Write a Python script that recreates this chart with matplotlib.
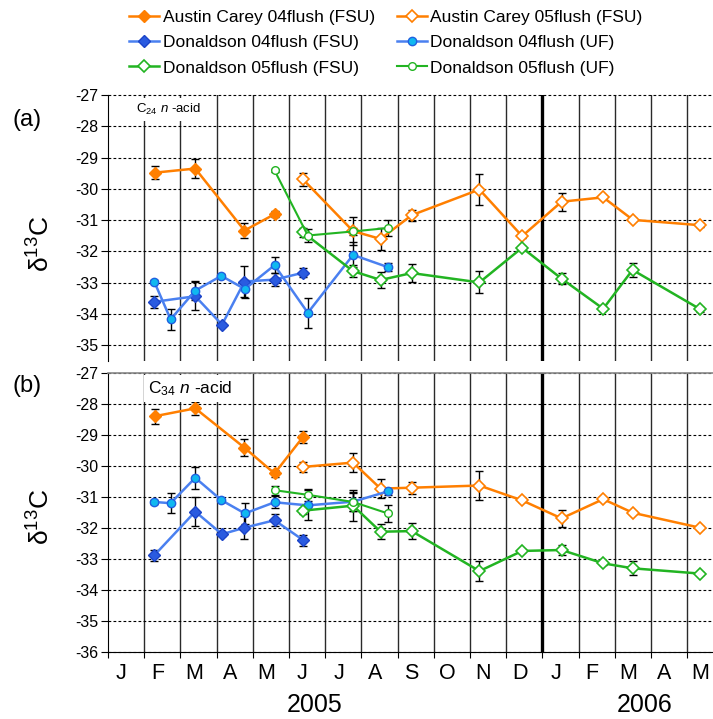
import numpy as np
import matplotlib
matplotlib.use("Agg")
import matplotlib.pyplot as plt

plt.rcParams['font.family'] = ['Liberation Sans', 'DejaVu Sans']
plt.rcParams['mathtext.fontset'] = 'custom'
plt.rcParams['mathtext.rm'] = 'Liberation Sans'
plt.rcParams['mathtext.it'] = 'Liberation Sans:italic'

nan = np.nan

# months since 1 Jan 2005
ac04_x = [1.31, 2.41, 3.77, 4.60, 5.39]
ac05_x = [5.39, 6.77, 7.53, 8.39, 10.26, 11.44, 12.53, 13.68, 14.50, 16.35]
df04_x = [1.28, 2.41, 3.15, 3.77, 4.60, 5.39]
du04_x = [1.28, 1.73, 2.41, 3.13, 3.78, 4.60, 5.52, 6.77, 7.73]
df05_x = [5.39, 6.77, 7.53, 8.39, 10.26, 11.44, 12.53, 13.68, 14.49, 16.35]
du05_x = [4.60, 5.52, 6.77, 7.73]

# panel (a) C24 n-acid
a_ac04_y = [-29.48, -29.35, -31.33, -30.81, nan]
a_ac04_e = [0.22, 0.30, 0.25, 0.10, 0]
a_ac05_y = [-29.70, -31.35, -31.60, -30.84, -30.02, -31.51, -30.41, -30.27, -30.99, -31.16]
a_ac05_e = [0.20, 0.45, 0.35, 0.18, 0.48, 0.06, 0.29, 0.05, 0.05, 0.07]
a_df04_y = [-33.61, -33.43, -34.34, -32.96, -32.90, -32.68]
a_df04_e = [0.20, 0.45, 0.05, 0.50, 0.20, 0.15]
a_du04_y = [-32.97, -34.17, -33.25, -32.78, -33.20, -32.44, -33.96, -32.11, -32.50]
a_du04_e = [0.05, 0.33, 0.30, 0.05, 0.30, 0.25, 0.47, 0.40, 0.12]
a_df05_y = [-31.39, -32.63, -32.91, -32.69, -32.99, -31.88, -32.87, -33.83, -32.59, -33.84]
a_df05_e = [0.15, 0.20, 0.25, 0.28, 0.35, 0.05, 0.17, 0.05, 0.22, 0.08]
a_du05_y = [-29.41, -31.49, -31.36, -31.25]
a_du05_e = [0.05, 0.20, 0.10, 0.25]

# panel (b) C34 n-acid
b_ac04_y = [-28.39, -28.14, -29.41, -30.24, -29.06]
b_ac04_e = [0.24, 0.20, 0.27, 0.10, 0.19]
b_ac05_y = [-30.03, -29.89, -30.73, -30.70, -30.63, -31.11, -31.69, -31.07, -31.51, -31.99]
b_ac05_e = [0.16, 0.30, 0.30, 0.19, 0.48, 0.05, 0.28, 0.05, 0.05, 0.05]
b_df04_y = [-32.88, -31.47, -32.20, -31.99, -31.75, -32.39]
b_df04_e = [0.18, 0.46, 0.05, 0.38, 0.19, 0.18]
b_du04_y = [-31.16, -31.20, -30.38, -31.10, -31.53, -31.17, -31.27, -31.15, -30.82]
b_du04_e = [0.05, 0.33, 0.35, 0.05, 0.35, 0.19, 0.48, 0.30, 0.10]
b_df05_y = [-31.44, -31.28, -32.12, -32.10, -33.39, -32.74, -32.71, -33.14, -33.30, -33.47]
b_df05_e = [0.10, 0.50, 0.25, 0.25, 0.33, 0.05, 0.16, 0.05, 0.22, 0.05]
b_du05_y = [-30.78, -30.93, -31.16, -31.53]
b_du05_e = [0.15, 0.19, 0.30, 0.27]

labels = ['Austin Carey 04flush (FSU)', 'Austin Carey 05flush (FSU)',
          'Donaldson 04flush (FSU)', 'Donaldson 04flush (UF)',
          'Donaldson 05flush (FSU)', 'Donaldson 05flush (UF)']
month_letters = ['J', 'F', 'M', 'A', 'M', 'J', 'J', 'A', 'S', 'O', 'N', 'D',
                 'J', 'F', 'M', 'A', 'M']

orange = '#ff7f00'
blue = '#4a80f0'
green = '#22b422'

styles = [
    dict(color=orange, marker='D', ms=6.5, mfc=orange, mec=orange, lw=1.8),
    dict(color=orange, marker='D', ms=6.5, mfc='white', mec=orange, lw=1.8, mew=1.2),
    dict(color=blue, marker='D', ms=6.5, mfc='#2a5be0', mec='#1c44c8', lw=1.8),
    dict(color=blue, marker='o', ms=6, mfc='#10b8f0', mec='#2060e0', lw=1.8),
    dict(color=green, marker='D', ms=6.5, mfc='white', mec=green, lw=1.8, mew=1.2),
    dict(color=green, marker='o', ms=5.5, mfc='white', mec=green, lw=1.5, mew=1.0),
]

xs = [ac04_x, ac05_x, df04_x, du04_x, df05_x, du05_x]
panel_a = [(a_ac04_y, a_ac04_e), (a_ac05_y, a_ac05_e), (a_df04_y, a_df04_e),
           (a_du04_y, a_du04_e), (a_df05_y, a_df05_e), (a_du05_y, a_du05_e)]
panel_b = [(b_ac04_y, b_ac04_e), (b_ac05_y, b_ac05_e), (b_df04_y, b_df04_e),
           (b_du04_y, b_du04_e), (b_df05_y, b_df05_e), (b_du05_y, b_du05_e)]

fig = plt.figure(figsize=(7.13, 7.19), dpi=100)
W, H = 713, 719
axw = 17 * 36.2 / W
ax_a = fig.add_axes([108 / W, 1 - 361 / H, axw, (361 - 95) / H])
ax_b = fig.add_axes([108 / W, 1 - 652 / H, axw, (652 - 373) / H])


def setup(ax, ylo, yhi):
    ax.set_xlim(0, 17)
    ax.set_ylim(ylo, yhi)
    for m in range(1, 17):
        if m == 12:
            ax.axvline(m, color='black', lw=2.4, zorder=1)
        else:
            ax.axvline(m, color='#2a2a2a', lw=1.0, zorder=1)
    for v in range(int(np.ceil(ylo)), yhi + 1):
        ax.axhline(v, color='black', lw=0.8, ls=(0, (2.5, 2)), zorder=1,
                   clip_on=False)
    ax.set_yticks(range(int(np.ceil(ylo)), yhi + 1))
    ax.set_yticklabels([str(v) for v in range(int(np.ceil(ylo)), yhi + 1)])
    ax.tick_params(axis='y', direction='out', length=5, labelsize=11.5, pad=2)
    ax.spines['right'].set_visible(False)
    ax.spines['top'].set_visible(False)


def draw(ax, data):
    handles = []
    for x, (y, e), st in zip(xs, data, styles):
        y = np.array(y)
        ax.errorbar(x, y, yerr=e, fmt='none', ecolor='black', elinewidth=1.0,
                    capsize=3, capthick=1.0, zorder=2)
        h, = ax.plot(x, y, zorder=3, **st)
        handles.append(h)
    return handles


setup(ax_a, -35.5, -27)
ax_a.spines['bottom'].set_visible(False)
ax_a.set_xticks([])
handles = draw(ax_a, panel_a)

setup(ax_b, -36, -27)
ax_b.spines['top'].set_visible(True)
ax_b.spines['top'].set_color('#888888')
ax_b.spines['top'].set_linewidth(1.2)
ax_b.set_xticks(range(0, 18))
ax_b.set_xticklabels([])
ax_b.set_xticks(np.arange(0.5, 17, 1) - 0.13, minor=True)
ax_b.set_xticklabels(month_letters, minor=True, fontsize=15.5)
ax_b.tick_params(axis='x', which='major', direction='out', length=4)
ax_b.tick_params(axis='x', which='minor', length=0, pad=8)
draw(ax_b, panel_b)

for ax, txt, fs, xy in [(ax_a, r'C$_{24}$ $n$ -acid', 9.5, (0.045, 0.945)),
                        (ax_b, r'C$_{34}$ $n$ -acid', 12.5, (0.065, 0.945))]:
    ax.text(xy[0], xy[1], txt, transform=ax.transAxes, fontsize=fs,
            va='center', ha='left', zorder=5,
            bbox=dict(facecolor='white', edgecolor='none', pad=3))

ax_a.set_ylabel(r'δ$^{13}$C', fontsize=19)
ax_a.yaxis.set_label_coords(-0.087, 0.44)
ax_b.set_ylabel(r'δ$^{13}$C', fontsize=19)
ax_b.yaxis.set_label_coords(-0.087, 0.484)

fig.text(12 / W, 1 - 120 / H, '(a)', fontsize=17, va='center')
fig.text(12 / W, 1 - 386 / H, '(b)', fontsize=17, va='center')
fig.text(315 / W, 1 - 705 / H, '2005', fontsize=18, ha='center', va='center')
fig.text(645 / W, 1 - 705 / H, '2006', fontsize=18, ha='center', va='center')

order = [0, 2, 4, 1, 3, 5]
fig.legend([handles[i] for i in order], [labels[i] for i in order],
           loc='upper left', bbox_to_anchor=(122 / W, 1 - 3 / H), ncol=2,
           frameon=False, fontsize=12.5, handlelength=1.75, handletextpad=0.2,
           columnspacing=1.25, labelspacing=0.58, borderaxespad=0)

fig.savefig('out.png', dpi=100)
